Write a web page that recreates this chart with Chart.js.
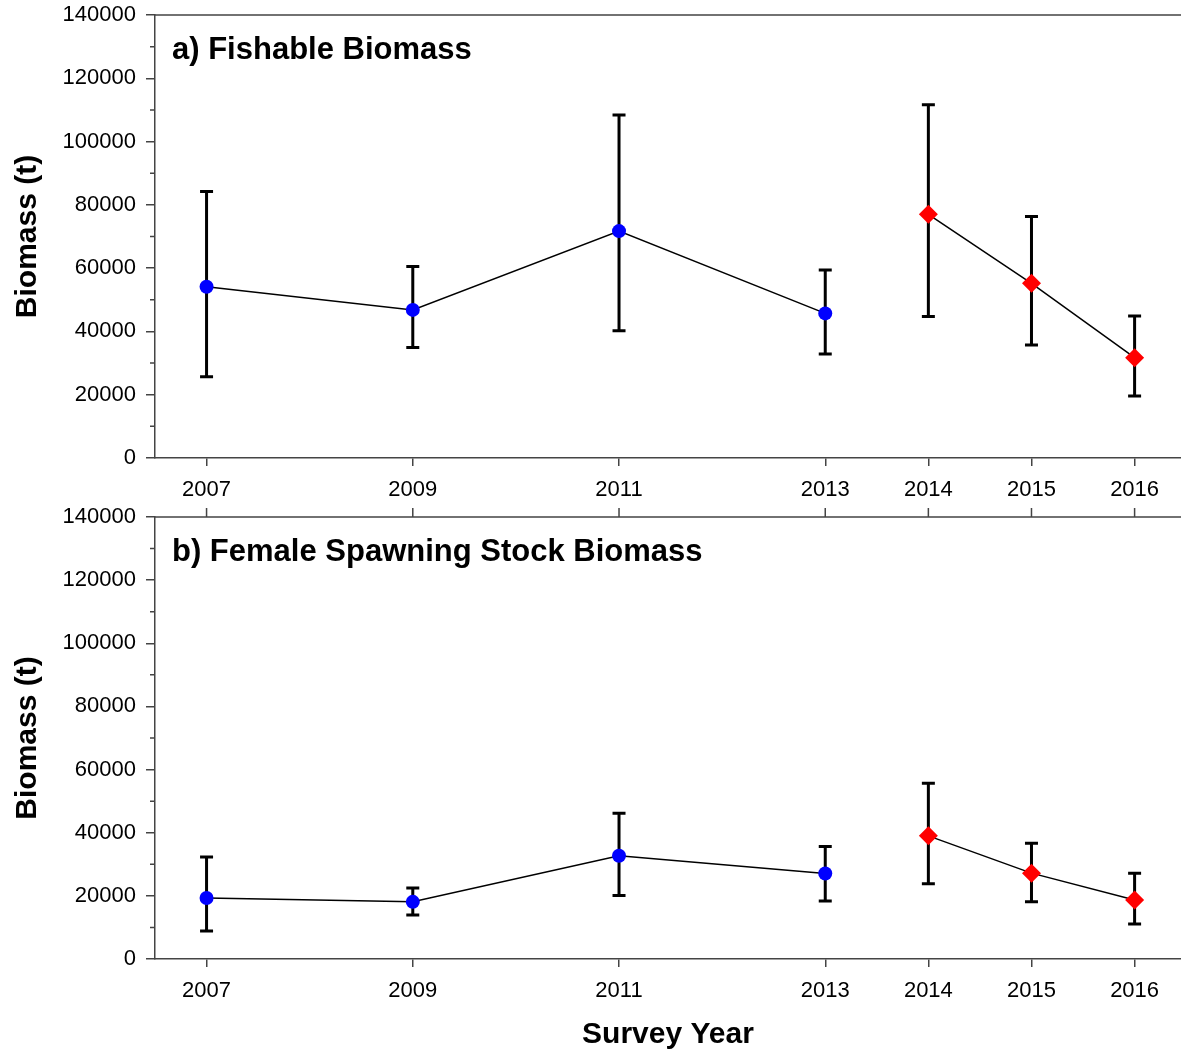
<!DOCTYPE html>
<html>
<head>
<meta charset="utf-8">
<script src="https://cdn.jsdelivr.net/npm/chart.js@4"></script>
<style>
  body { margin: 0; background: #fff; }
  #wrap { position: relative; width: 1181px; height: 1051px; }
  canvas { position: absolute; left: 0; }
</style>
</head>
<body>
<div id="wrap">
  <canvas id="panelA" width="1181" height="505" style="top:0"></canvas>
  <canvas id="panelB" width="1181" height="546" style="top:505px"></canvas>
</div>
<script>
const years = [2007, 2009, 2011, 2013, 2014, 2015, 2016];
const newSurveyFrom = 2014; // red diamonds from here on
const yTicks = [0, 20000, 40000, 60000, 80000, 100000, 120000, 140000];
const yMinorTicks = [10000, 30000, 50000, 70000, 90000, 110000, 130000];

// a) Fishable Biomass
const fishableMean = [54100, 46800, 71700, 45700, 77000, 55200, 31700];
const fishableLow  = [25700, 34900, 40200, 32900, 44700, 35700, 19600];
const fishableHigh = [84200, 60500, 108400, 59400, 111600, 76300, 44900];

// b) Female Spawning Stock Biomass
const femaleMean = [19300, 18100, 32700, 27100, 39000, 27200, 18700];
const femaleLow  = [8900, 13900, 20100, 18400, 23800, 18100, 11100];
const femaleHigh = [32300, 22500, 46200, 35600, 55700, 36700, 27200];

const FONT = 'Arial, "Liberation Sans", sans-serif';
const AXIS = '#444';

const errorBars = {
    id: 'errorBars',
    beforeDatasetsDraw(chart, args, opts) {
        const { ctx, scales: { x, y } } = chart;
        ctx.save();
        ctx.strokeStyle = '#000';
        ctx.lineWidth = 3;
        years.forEach((yr, i) => {
            const px = x.getPixelForValue(yr);
            const top = y.getPixelForValue(opts.high[i]);
            const bot = y.getPixelForValue(opts.low[i]);
            ctx.beginPath();
            ctx.moveTo(px, top); ctx.lineTo(px, bot);
            ctx.moveTo(px - 6.5, top); ctx.lineTo(px + 6.5, top);
            ctx.moveTo(px - 6.5, bot); ctx.lineTo(px + 6.5, bot);
            ctx.stroke();
        });
        ctx.restore();
    }
};

const frame = {
    id: 'frame',
    afterDraw(chart, args, opts) {
        const { ctx, chartArea: area, scales: { x, y } } = chart;
        ctx.save();
        ctx.strokeStyle = AXIS;
        ctx.lineWidth = 1.5;
        ctx.beginPath();
        // minor y ticks
        yMinorTicks.forEach(v => {
            const py = y.getPixelForValue(v);
            ctx.moveTo(area.left - 5, py); ctx.lineTo(area.left, py);
        });
        // top border
        ctx.moveTo(area.left, area.top); ctx.lineTo(area.right, area.top);
        if (opts.topTicks) {
            years.forEach(yr => {
                const px = x.getPixelForValue(yr);
                ctx.moveTo(px, area.top); ctx.lineTo(px, area.top - 9);
            });
        }
        ctx.stroke();
        // panel label
        ctx.fillStyle = '#000';
        ctx.font = 'bold 31px ' + FONT;
        ctx.textBaseline = 'alphabetic';
        ctx.fillText(opts.label, area.left + 17, area.top + 44);
        ctx.restore();
    }
};

function makePanel(id, label, mean, low, high, xHeight, padTop, showXTitle, topTicks) {
    const pts = years.map((yr, i) => ({ x: yr, y: mean[i] }));
    return new Chart(document.getElementById(id), {
        type: 'line',
        data: {
            datasets: [
                {
                    data: pts.filter(p => p.x < newSurveyFrom),
                    borderColor: '#000', borderWidth: 1.5,
                    pointStyle: 'circle', pointRadius: 7,
                    pointBackgroundColor: '#0000ff', pointBorderWidth: 0,
                },
                {
                    data: pts.filter(p => p.x >= newSurveyFrom),
                    borderColor: '#000', borderWidth: 1.5,
                    pointStyle: 'rectRot', pointRadius: 9.5,
                    pointBackgroundColor: '#ff0000', pointBorderWidth: 0,
                },
            ],
        },
        options: {
            responsive: false,
            animation: false,
            layout: { autoPadding: false, padding: { top: padTop, right: 0, bottom: 0, left: 0 } },
            plugins: {
                legend: { display: false },
                tooltip: { enabled: false },
                errorBars: { low: low, high: high },
                frame: { label: label, topTicks: topTicks },
            },
            scales: {
                x: {
                    type: 'linear', min: 2006.5, max: 2016.45,
                    afterBuildTicks: s => { s.ticks = years.map(v => ({ value: v })); },
                    afterFit: s => { s.height = xHeight; s.paddingLeft = 0; s.paddingRight = 0; },
                    ticks: { font: { family: FONT, size: 22 }, color: '#000', padding: 11, callback: v => String(v) },
                    grid: { drawOnChartArea: false, tickLength: 8, color: AXIS, lineWidth: 1.5 },
                    border: { color: AXIS, width: 1.5 },
                    title: {
                        display: showXTitle, text: 'Survey Year', color: '#000',
                        font: { family: FONT, size: 30, weight: 'bold' },
                        padding: { top: 0, bottom: -2 },
                    },
                },
                y: {
                    min: 0, max: 140000,
                    afterBuildTicks: s => { s.ticks = yTicks.map(v => ({ value: v })); },
                    afterFit: s => { s.width = 155; s.paddingTop = 0; s.paddingBottom = 0; },
                    ticks: { font: { family: FONT, size: 22 }, color: '#000', padding: 10, callback: v => String(v) },
                    grid: { drawOnChartArea: false, tickLength: 9, color: AXIS, lineWidth: 1.5 },
                    border: { color: AXIS, width: 1.5 },
                    title: {
                        display: true, text: 'Biomass (t)', color: '#000',
                        font: { family: FONT, size: 30, weight: 'bold' },
                        padding: { top: 10, bottom: 0 },
                    },
                },
            },
        },
        plugins: [errorBars, frame],
    });
}

makePanel('panelA', 'a) Fishable Biomass', fishableMean, fishableLow, fishableHigh, 47, 15, false, false);
makePanel('panelB', 'b) Female Spawning Stock Biomass', femaleMean, femaleLow, femaleHigh, 92, 12, true, true);
</script>
</body>
</html>
